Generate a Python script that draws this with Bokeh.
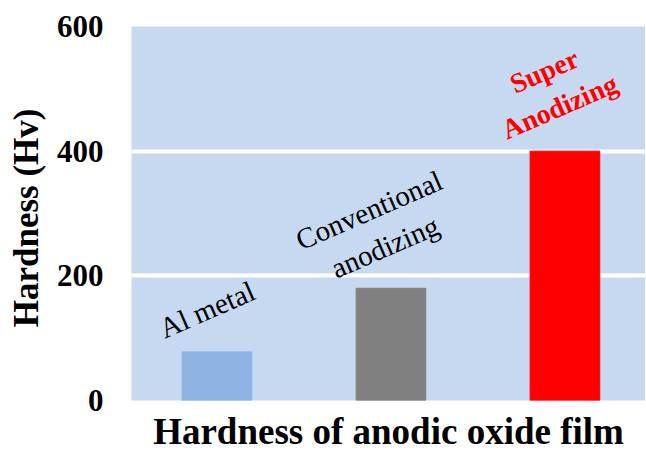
from bokeh.plotting import figure
from bokeh.models import ColumnDataSource, Range1d, FixedTicker, Title
from bokeh.core.properties import value
from bokeh.embed import file_html
from bokeh.resources import INLINE
import math

# ---- data ----
categories = ["Al metal", "Conventional\nanodizing", "Super\nAnodizing"]
hardness = [78, 180, 400]
bar_colors = ["#8EB4E3", "#808080", "#FF0000"]
label_colors = ["#000000", "#000000", "#FF0000"]
label_bold = [False, False, True]
y_ticks = [0, 200, 400, 600]
x_title = "Hardness of anodic oxide film"
y_title = "Hardness  (Hv)"

# ---- layout (not data) ----
label_y = [146, 276, 500]
label_dx = [-10, -14, -13]
label_size = ["29px", "29px", "28px"]

xs = list(range(len(categories)))
src = ColumnDataSource(dict(x=xs, top=hardness, color=bar_colors))

FONT = "'Liberation Serif', 'Times New Roman', serif"

p = figure(width=645, height=459, output_backend="svg", toolbar_location=None,
           x_range=Range1d(-0.491, 2.463), y_range=Range1d(0, 600),
           min_border_left=131, min_border_right=0, min_border_top=26,
           min_border_bottom=58)
p.background_fill_color = "#C6D9F0"
p.border_fill_color = "white"
p.outline_line_color = None

p.vbar(x="x", top="top", width=0.4, bottom=0, color="color", source=src)

for bold in (False, True):
    idx = [i for i in xs if label_bold[i] == bold]
    s = ColumnDataSource(dict(x=[xs[i] for i in idx], y=[label_y[i] for i in idx],
                              text=[categories[i] for i in idx],
                              color=[label_colors[i] for i in idx],
                              dx=[label_dx[i] for i in idx]))
    p.text(x="x", y="y", text="text", source=s, text_color="color",
           text_font=value(FONT), text_font_size=label_size[idx[0]],
           text_font_style="bold" if bold else "normal",
           text_align="center", text_baseline="middle", angle=math.radians(23.5),
           x_offset="dx", text_line_height=1.25)

# x axis hidden; its title drawn as a Title below the frame
p.xaxis.visible = False
p.add_layout(Title(text=x_title, align="center", offset=6, standoff=16,
                   text_font=FONT, text_font_size="37px", text_font_style="bold",
                   text_color="black"), "below")

p.yaxis.ticker = FixedTicker(ticks=y_ticks)
p.yaxis.major_label_text_font = FONT
p.yaxis.major_label_text_font_size = "31px"
p.yaxis.major_label_text_font_style = "bold"
p.yaxis.major_label_text_color = "black"
p.yaxis.major_label_standoff = 22
p.yaxis.major_tick_line_color = None
p.yaxis.minor_tick_line_color = None
p.yaxis.axis_line_color = None
p.yaxis.axis_label = y_title
p.yaxis.axis_label_text_font = FONT
p.yaxis.axis_label_text_font_size = "35px"
p.yaxis.axis_label_text_font_style = "bold"
p.yaxis.axis_label_text_color = "black"
p.yaxis.axis_label_standoff = 8

p.xgrid.grid_line_color = None
p.ygrid.ticker = FixedTicker(ticks=y_ticks)
p.ygrid.grid_line_color = "white"
p.ygrid.grid_line_width = 4

open("out.html", "w").write(file_html(p, INLINE))
